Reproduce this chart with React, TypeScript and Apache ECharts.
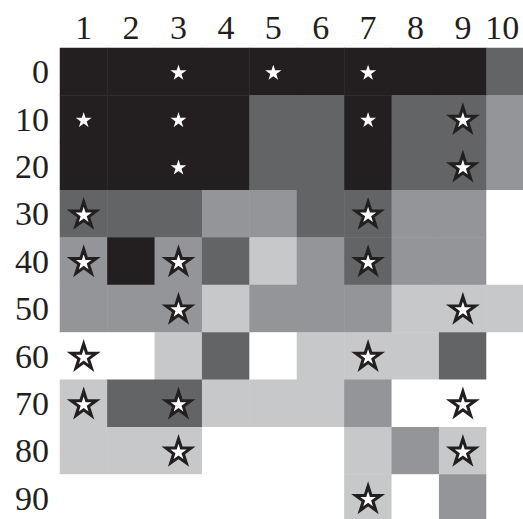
import React, { useEffect, useRef } from "react";
import * as echarts from "echarts";

const columns = ["1", "2", "3", "4", "5", "6", "7", "8", "9", "10"];
const rows = ["0", "10", "20", "30", "40", "50", "60", "70", "80", "90"];

// shade level per cell: 4 = black, 3 = dark gray, 2 = mid gray, 1 = light gray, 0 = white
const levels: number[][] = [
  [4, 4, 4, 4, 4, 4, 4, 4, 4, 3], // 0
  [4, 4, 4, 4, 3, 3, 4, 3, 3, 2], // 10
  [4, 4, 4, 4, 3, 3, 4, 3, 3, 2], // 20
  [3, 3, 3, 2, 2, 3, 3, 2, 2, 0], // 30
  [2, 4, 2, 3, 1, 2, 3, 2, 2, 0], // 40
  [2, 2, 2, 1, 2, 2, 2, 1, 1, 1], // 50
  [0, 0, 1, 3, 0, 1, 1, 1, 3, 0], // 60
  [1, 3, 3, 1, 1, 1, 2, 0, 0, 0], // 70
  [1, 1, 1, 0, 0, 0, 1, 2, 1, 0], // 80
  [0, 0, 0, 0, 0, 0, 1, 0, 2, 0], // 90
];

// star markers: [column label, row label]
const stars: [string, string][] = [
  ["3", "0"], ["5", "0"], ["7", "0"],
  ["1", "10"], ["3", "10"], ["7", "10"], ["9", "10"],
  ["3", "20"], ["9", "20"],
  ["1", "30"], ["7", "30"],
  ["1", "40"], ["3", "40"], ["7", "40"],
  ["3", "50"], ["9", "50"],
  ["1", "60"], ["7", "60"],
  ["1", "70"], ["3", "70"], ["9", "70"],
  ["3", "80"], ["9", "80"],
  ["7", "90"],
];

const shadeColors = ["#ffffff", "#c7c8ca", "#939598", "#636466", "#231f20"];

const STAR =
  "path://M50 0L61.23 34.55L97.55 34.55L68.17 55.9L79.39 90.45L50 69.1L20.61 90.45L31.83 55.9L2.45 34.55L38.77 34.55Z";

export default function App() {
  const ref = useRef<HTMLDivElement>(null);
  useEffect(() => {
    if (!ref.current) return;
    const chart = echarts.init(ref.current, null, { renderer: "svg" });
    const heat: number[][] = [];
    levels.forEach((row, r) => row.forEach((v, c) => heat.push([c, r, v])));
    const font = "'Liberation Serif', 'DejaVu Serif', serif";
    const fs = 34;
    chart.setOption({
      animation: false,
      backgroundColor: "#ffffff",
      grid: {
        left: 60,
        top: 48,
        width: 474,
        height: 474,
        containLabel: false,
        outerBoundsMode: "none",
      },
      xAxis: {
        type: "category",
        position: "top",
        data: columns,
        axisLine: { show: false },
        axisTick: { show: false },
        splitLine: { show: false },
        axisLabel: {
          interval: 0,
          hideOverlap: false,
          fontSize: fs,
          fontFamily: font,
          color: "#231f20",
          margin: 4,
          formatter: (v: string) => (v === "10" ? "{last|" + v + "}" : v),
          rich: {
            last: { fontSize: fs, fontFamily: font, color: "#231f20", padding: [0, 16, 0, 0] },
          },
        },
      },
      yAxis: {
        type: "category",
        inverse: true,
        data: rows,
        axisLine: { show: false },
        axisTick: { show: false },
        splitLine: { show: false },
        axisLabel: {
          interval: 0,
          hideOverlap: false,
          fontSize: fs,
          fontFamily: font,
          color: "#231f20",
          margin: 11,
        },
      },
      visualMap: {
        type: "piecewise",
        show: false,
        dimension: 2,
        seriesIndex: 0,
        pieces: shadeColors.map((c, i) => ({ value: i, color: c })),
      },
      series: [
        {
          type: "heatmap",
          data: heat,
          itemStyle: { borderWidth: 0 },
          emphasis: { disabled: true },
        },
        {
          type: "scatter",
          data: stars,
          symbol: STAR,
          symbolSize: [25, 24],
          itemStyle: { color: "#ffffff", borderColor: "#231f20", borderWidth: 3, opacity: 1 },
          z: 5,
        },
      ],
    });
    return () => chart.dispose();
  }, []);
  return (
    <div
      ref={ref}
      style={{ position: "absolute", left: 0, top: 0, width: 523, height: 519 }}
    />
  );
}
